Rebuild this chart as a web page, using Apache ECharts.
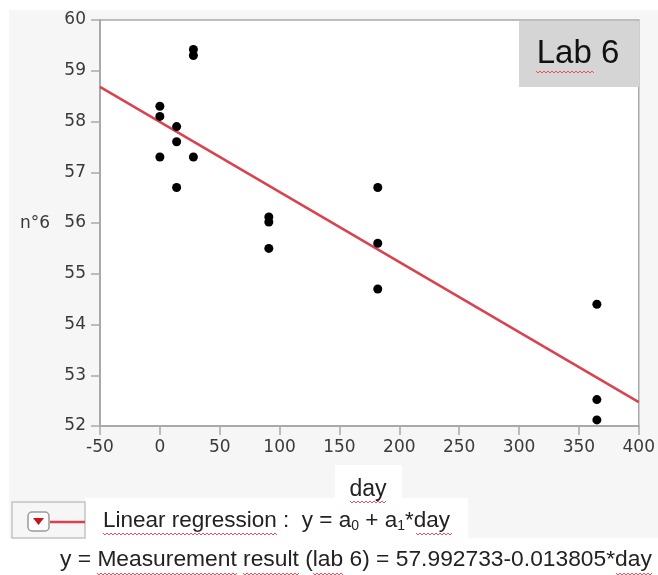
<!DOCTYPE html>
<html>
<head>
<meta charset="utf-8">
<script src="https://cdn.jsdelivr.net/npm/echarts@6/dist/echarts.min.js"></script>
<style>
  html, body { margin: 0; padding: 0; background: #fff; }
  #chart { width: 658px; height: 575px; }
</style>
</head>
<body>
<div id="chart"></div>
<script>
// measured points (day, n°6)
const dayValues = [0, 0, 0, 14, 14, 14, 28, 28, 28, 91, 91, 91, 182, 182, 182, 365, 365, 365]
const labValues = [58.3, 58.1, 57.3, 57.9, 57.6, 56.7, 59.42, 59.3, 57.3, 56.12, 56.02, 55.5, 56.7, 55.6, 54.7, 54.4, 52.52, 52.12]

// fitted line end points: y = 57.992733 - 0.013805*day
const fitDays = [-50, 400]
const fitValues = [58.683, 52.471]

const xTicks = { min: -50, max: 400, step: 50 }
const yTicks = { min: 52, max: 60, step: 1 }

const tickFont = 'DejaVu Sans'
const textFont = 'Liberation Sans'
const red = '#d8434f'

// red squiggle under spell-checked words
function squiggle(x1, x2, y) {
  const pts = []
  let up = true
  for (let x = x1; x <= x2; x += 2) {
    pts.push([x, up ? y : y + 2])
    up = !up
  }
  return {
    type: 'polyline', z: 20, silent: true,
    shape: { points: pts },
    style: { stroke: '#e8505b', lineWidth: 1, fill: null }
  }
}

const chart = echarts.init(document.getElementById('chart'))

chart.setOption({
  animation: false,
  grid: {
    left: 100, top: 20, width: 540, height: 406,
    show: true, backgroundColor: '#fff', borderColor: '#a9a9a9', borderWidth: 1.5
  },
  xAxis: {
    type: 'value',
    min: xTicks.min, max: xTicks.max, interval: xTicks.step,
    axisLine: { onZero: false, lineStyle: { color: '#a9a9a9', width: 2 } },
    axisTick: { show: true, length: 9, lineStyle: { color: '#a9a9a9', width: 1.5 } },
    axisLabel: { fontFamily: tickFont, fontSize: 17, color: '#3a3a3a', margin: 13 },
    splitLine: { show: false }
  },
  yAxis: {
    type: 'value',
    min: yTicks.min, max: yTicks.max, interval: yTicks.step,
    axisLine: { show: true, onZero: false, lineStyle: { color: '#a9a9a9', width: 2 } },
    axisTick: { show: true, length: 9, lineStyle: { color: '#a9a9a9', width: 1.5 } },
    axisLabel: { fontFamily: tickFont, fontSize: 17, color: '#3a3a3a', margin: 14 },
    splitLine: { show: false }
  },
  graphic: [
    // panel backgrounds
    { type: 'rect', z: -10, shape: { x: 9, y: 10, width: 649, height: 528 }, style: { fill: '#f6f6f6' } },
    { type: 'rect', z: -9, shape: { x: 335, y: 465, width: 67, height: 34 }, style: { fill: '#fff' } },
    { type: 'rect', z: -9, shape: { x: 85, y: 498, width: 383, height: 42 }, style: { fill: '#fff' } },
    // Lab 6 label
    { type: 'rect', z: 10, shape: { x: 519, y: 21, width: 120, height: 66 }, style: { fill: '#d5d5d5' } },
    { type: 'text', z: 11, x: 578, y: 54, style: { text: 'Lab 6', font: '33px "Liberation Sans"', fill: '#111', align: 'center', verticalAlign: 'middle' } },
    squiggle(536, 594, 71),
    // axis titles
    { type: 'text', x: 35, y: 224, style: { text: 'n°6', font: '17px "DejaVu Sans"', fill: '#3a3a3a', align: 'center', verticalAlign: 'middle' } },
    { type: 'text', x: 368, y: 490, style: { text: 'day', font: '23px "Liberation Sans"', fill: '#222', align: 'center', verticalAlign: 'middle' } },
    squiggle(350, 386, 501),
    // legend row
    { type: 'rect', shape: { x: 12, y: 502, width: 73, height: 36 }, style: { fill: '#f6f6f6', stroke: '#c4c4c4', lineWidth: 1.5 } },
    { type: 'rect', shape: { x: 28, y: 512, width: 21, height: 19, r: 4 }, style: { fill: '#fff', stroke: '#9a9a9a', lineWidth: 1.5 } },
    { type: 'polygon', shape: { points: [[33, 518], [44, 518], [38.5, 525]] }, style: { fill: '#c8141e' } },
    { type: 'line', shape: { x1: 50, y1: 522, x2: 85, y2: 522 }, style: { stroke: red, lineWidth: 2.5 } },
    {
      type: 'text', x: 103, y: 521,
      style: {
        text: '{a|Linear regression :  y = a}{s|0}{a| + a}{s|1}{a|*day}',
        verticalAlign: 'middle',
        rich: {
          a: { fontFamily: textFont, fontSize: 22.5, fill: '#222' },
          s: { fontFamily: textFont, fontSize: 14, fill: '#222', padding: [10, 0, 0, 0] }
        }
      }
    },
    squiggle(103, 277, 533),
    squiggle(416, 452, 533),
    // fitted equation
    { type: 'text', x: 60, y: 560, style: { text: 'y = Measurement result (lab 6) = 57.992733-0.013805*day', font: '22.8px "Liberation Sans"', fill: '#222', verticalAlign: 'middle' } },
    squiggle(97, 237, 573),
    squiggle(243, 299, 573),
    squiggle(313, 343, 573),
    squiggle(616, 652, 573)
  ],
  series: [
    {
      type: 'line',
      data: fitDays.map((d, i) => [d, fitValues[i]]),
      showSymbol: false,
      lineStyle: { color: red, width: 2.5 },
      z: 3
    },
    {
      type: 'scatter',
      data: dayValues.map((d, i) => [d, labValues[i]]),
      symbolSize: 9,
      itemStyle: { color: '#000', opacity: 1 },
      z: 4
    }
  ]
})
</script>
</body>
</html>
